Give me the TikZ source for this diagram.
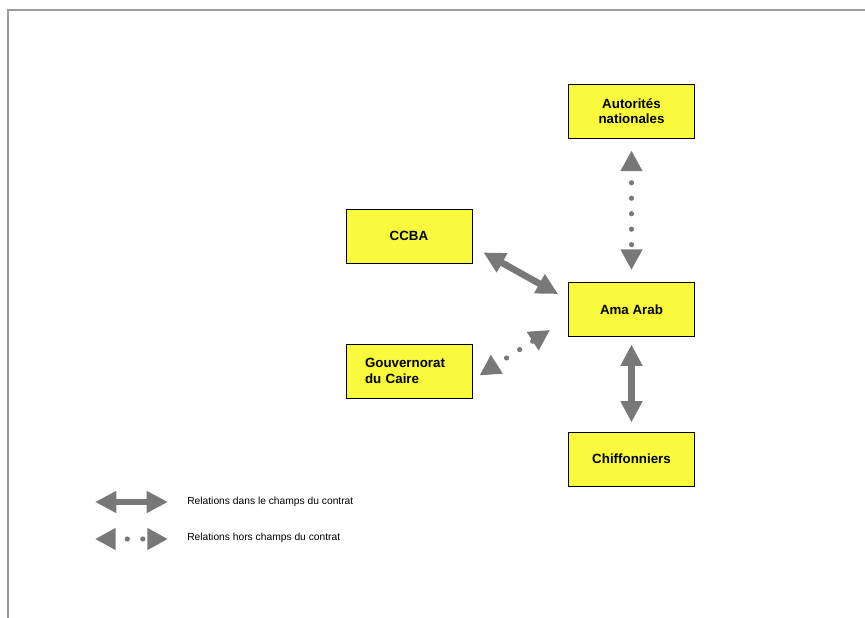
\documentclass[tikz,border=0pt]{standalone}
\usepackage{fontspec}
\setmainfont{Liberation Sans}
\usetikzlibrary{arrows.meta}
\definecolor{boxyellow}{RGB}{250,250,60}
\definecolor{arrowgrey}{RGB}{120,120,120}
\definecolor{framegrey}{RGB}{155,155,155}
\begin{document}
\begin{tikzpicture}[x=0.75pt,y=-0.75pt,
 actor/.style={draw=black, line width=0.7pt, fill=boxyellow, minimum width=94.5pt, minimum height=40.5pt, inner sep=0pt, font=\fontsize{10}{11.6}\selectfont\bfseries, align=center},
 solidrel/.style={draw=arrowgrey, line width=5pt, {Triangle[length=16pt,width=15.5pt]}-{Triangle[length=16pt,width=15.5pt]}},
 dotrel/.style={draw=arrowgrey, line width=3.9pt, line cap=round, dash pattern=on 0pt off 11.6pt, dash phase=1.9pt, {Triangle[length=15.5pt,width=15.5pt]}-{Triangle[length=15.5pt,width=15.5pt]}},
 legendtext/.style={anchor=west, inner sep=0pt, font=\fontsize{7.7}{9}\selectfont}
]
\useasboundingbox (0,0) rectangle (865,618);
\draw[framegrey, line width=0.8pt] (8,618) -- (8,10) -- (865,10);

\node[actor] (auto) at (631.5,111) {Autorités\\nationales};
\node[actor] (ccba) at (409,236) {CCBA};
\node[actor] (ama) at (631.5,309.5) {Ama Arab};
\node[actor, text width=66pt, inner xsep=14.25pt, align=left] (gouv) at (409,371) {Gouvernorat\\du Caire};
\node[actor] (chif) at (631.5,459) {Chiffonniers};

\draw[dotrel, shorten <=9pt, shorten >=9pt] (auto.south) -- (ama.north);
\draw[solidrel] ([shift={(11,-11)}]ccba.south east) -- ([shift={(-10,12)}]ama.north west);
\draw[dotrel] ([shift={(7,-23)}]gouv.south east) -- ([shift={(-18,-7)}]ama.south west);
\draw[solidrel, shorten <=5.6pt, shorten >=6.8pt] (ama.south) -- (chif.north);

\coordinate (l1a) at (95,502);
\coordinate (l1b) at (168,502);
\coordinate (l2a) at (95,539);
\coordinate (l2b) at (168,539);
\draw[solidrel] (l1a) -- (l1b);
\draw[dotrel] (l2a) -- (l2b);
\node[legendtext] (t1) at (187,502) {Relations dans le champs du contrat};
\node[legendtext] (t2) at (187,538) {Relations hors champs du contrat};
\end{tikzpicture}
\end{document}
